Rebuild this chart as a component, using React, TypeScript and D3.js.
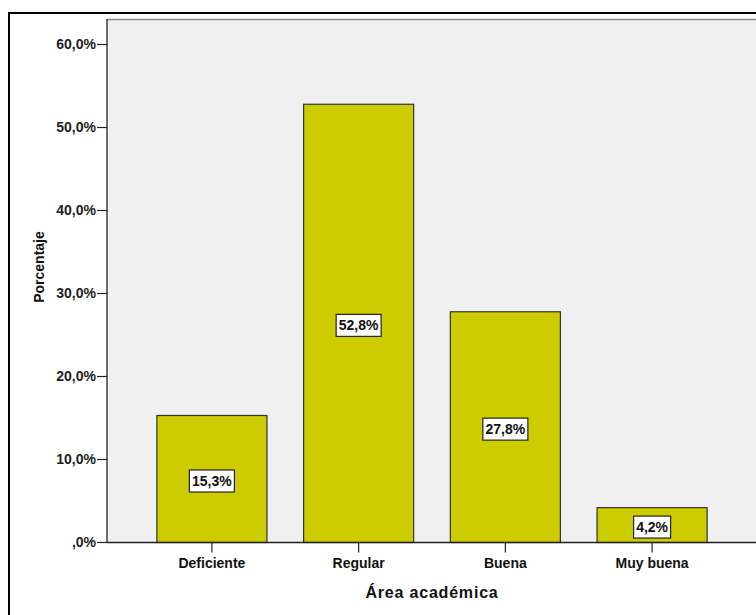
import React from "react";
import * as d3 from "d3";

const categories = ["Deficiente", "Regular", "Buena", "Muy buena"];
const values = [15.3, 52.8, 27.8, 4.2];
const valueLabels = ["15,3%", "52,8%", "27,8%", "4,2%"];
const yTicks = [0, 10, 20, 30, 40, 50, 60];
const yTickLabels = [",0%", "10,0%", "20,0%", "30,0%", "40,0%", "50,0%", "60,0%"];

const W = 756;
const H = 615;
const plotL = 107;
const plotR = 757;
const plotT = 19;
const plotB = 542.5;
const FONT = "Arial, 'Liberation Sans', Helvetica, sans-serif";

export default function App() {
  const x = d3
    .scaleBand<string>()
    .domain(categories)
    .range([plotL, plotR])
    .paddingInner(0.25)
    .paddingOuter(0.34);
  const y = d3.scaleLinear().domain([0, 60]).range([plotB, plotB - 6 * 83]);

  return (
    <svg
      width={W}
      height={H}
      style={{ position: "absolute", left: 0, top: 0, background: "#fff" }}
      fontFamily={FONT}
    >
      <rect x={0} y={0} width={W} height={H} fill="#fff" />
      {/* outer frame */}
      <rect x={9} y={13} width={W + 20} height={H + 20} fill="none" stroke="#000" strokeWidth={2} />
      {/* plot background */}
      <rect x={plotL} y={plotT} width={plotR - plotL} height={plotB - plotT} fill="#f0f0f0" />
      <line x1={plotL} x2={plotR} y1={plotT + 0.5} y2={plotT + 0.5} stroke="#888" strokeWidth={1.5} />
      {/* bars */}
      {categories.map((c, i) => {
        const bx = x(c)!;
        const by = y(values[i]);
        return (
          <rect
            key={c}
            x={bx}
            y={by}
            width={x.bandwidth()}
            height={plotB - by}
            fill="#cccc00"
            stroke="#333"
            strokeWidth={1.2}
          />
        );
      })}
      {/* axes */}
      <line x1={plotL} x2={plotL} y1={plotT} y2={plotB} stroke="#222" strokeWidth={1.3} />
      <line x1={plotL} x2={plotR} y1={plotB} y2={plotB} stroke="#222" strokeWidth={1.3} />
      {yTicks.map((t, i) => (
        <g key={t}>
          <line x1={plotL - 10} x2={plotL} y1={y(t)} y2={y(t)} stroke="#222" strokeWidth={1.2} />
          <text
            x={plotL - 11}
            y={y(t)}
            dy="0.35em"
            textAnchor="end"
            fontSize={14}
            fontWeight="bold"
            fill="#222"
          >
            {yTickLabels[i]}
          </text>
        </g>
      ))}
      {categories.map((c) => {
        const cx = x(c)! + x.bandwidth() / 2;
        return (
          <g key={c}>
            <line x1={cx} x2={cx} y1={plotB} y2={plotB + 10} stroke="#222" strokeWidth={1.2} />
            <text x={cx} y={568} textAnchor="middle" fontSize={14} fontWeight="bold" fill="#111">
              {c}
            </text>
          </g>
        );
      })}
      {/* value labels */}
      {categories.map((c, i) => {
        const cx = x(c)! + x.bandwidth() / 2;
        const cy = (y(values[i]) + plotB) / 2 + 2;
        const bw = valueLabels[i].length > 4 ? 45 : 37;
        return (
          <g key={c}>
            <rect x={cx - bw / 2} y={cy - 11} width={bw} height={22} fill="#fff" stroke="#222" strokeWidth={1.2} />
            <text x={cx} y={cy} dy="0.36em" textAnchor="middle" fontSize={14} fontWeight="bold" fill="#111">
              {valueLabels[i]}
            </text>
          </g>
        );
      })}
      {/* axis titles */}
      <text
        transform={`translate(44, 267) rotate(-90)`}
        textAnchor="middle"
        fontSize={14}
        fontWeight="bold"
        fill="#111"
      >
        Porcentaje
      </text>
      <text
        x={432}
        y={598}
        textAnchor="middle"
        fontSize={16}
        fontWeight="bold"
        letterSpacing={0.8}
        fill="#111"
      >
        Área académica
      </text>
    </svg>
  );
}
